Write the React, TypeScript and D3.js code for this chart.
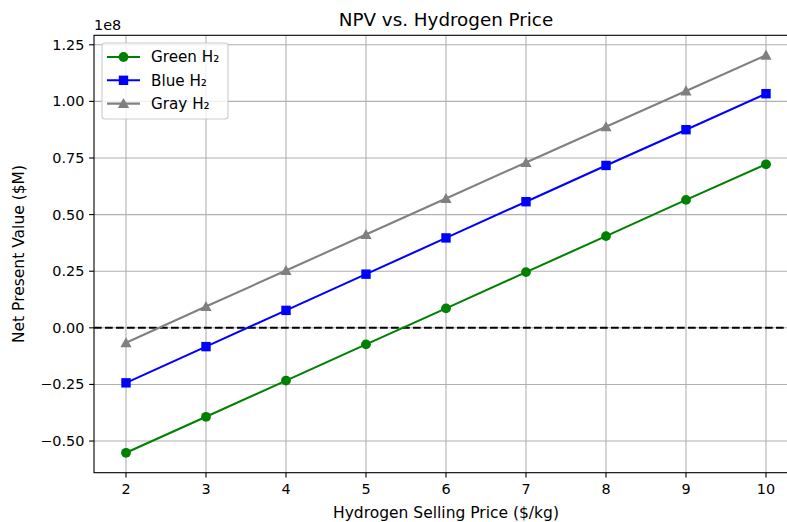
import React from "react";
import * as d3 from "d3";

const prices = [2, 3, 4, 5, 6, 7, 8, 9, 10];
const greenNPV = [-0.552, -0.393, -0.233, -0.073, 0.086, 0.246, 0.405, 0.565, 0.722];
const blueNPV = [-0.243, -0.083, 0.077, 0.237, 0.397, 0.557, 0.717, 0.875, 1.034];
const grayNPV = [-0.066, 0.094, 0.253, 0.412, 0.571, 0.730, 0.888, 1.046, 1.204];
const xTicks = [2, 3, 4, 5, 6, 7, 8, 9, 10];
const yTicks = [-0.5, -0.25, 0, 0.25, 0.5, 0.75, 1.0, 1.25];
const seriesNames = ["Green H₂", "Blue H₂", "Gray H₂"];
const seriesColors = ["#008000", "#0000ff", "#808080"];
const seriesMarkers = ["circle", "square", "triangle"];

const W = 787;
const H = 522;
const L = 94, R = 798, T = 35.3, B = 472.7;
const FONT = "DejaVu Sans, sans-serif";
const TICK_FS = 14.4;
const LABEL_FS = 15.5;
const TITLE_FS = 18.3;
const LEGEND_FS = 15.2;

function Marker({ kind, x, y, color }: { kind: string; x: number; y: number; color: string }) {
  if (kind === "circle") return <circle cx={x} cy={y} r={4.9} fill={color} />;
  if (kind === "square") return <rect x={x - 4.7} y={y - 4.7} width={9.4} height={9.4} fill={color} />;
  const s = 5.6;
  return <path d={`M${x},${y - s} L${x + s},${y + s * 0.8} L${x - s},${y + s * 0.8} Z`} fill={color} />;
}

export default function App() {
  const x = d3.scaleLinear().domain([1.6, 10.4]).range([L, R]);
  const allVals = [...greenNPV, ...blueNPV, ...grayNPV];
  const mn = d3.min(allVals)!, mx = d3.max(allVals)!;
  const pad = (mx - mn) * 0.05;
  const y = d3.scaleLinear().domain([mn - pad, mx + pad]).range([B, T]);
  const series = [greenNPV, blueNPV, grayNPV];
  const line = d3.line<number>().x((_, i) => x(prices[i])).y((d) => y(d));
  const fmt = d3.format(".2f");
  const fmtY = (v: number) => (v < 0 ? "\u2212" + fmt(-v) : fmt(v));

  return (
    <div style={{ position: "absolute", left: 0, top: 0 }}>
      <svg width={W} height={H} style={{ display: "block", background: "#fff" }} fontFamily={FONT}>
        <rect width={W} height={H} fill="#fff" />
        {xTicks.map((t) => (
          <line key={"gx" + t} x1={x(t)} x2={x(t)} y1={T} y2={B} stroke="#b0b0b0" strokeWidth={1.1} />
        ))}
        {yTicks.map((t) => (
          <line key={"gy" + t} x1={L} x2={R} y1={y(t)} y2={y(t)} stroke="#b0b0b0" strokeWidth={1.1} />
        ))}
        <line x1={L} x2={R} y1={y(0)} y2={y(0)} stroke="#000" strokeWidth={2.08} strokeDasharray="7.7,3.3" />
        {series.map((s, si) => (
          <g key={"s" + si}>
            <path d={line(s)!} fill="none" stroke={seriesColors[si]} strokeWidth={2.08} />
            {s.map((v, i) => (
              <Marker key={i} kind={seriesMarkers[si]} x={x(prices[i])} y={y(v)} color={seriesColors[si]} />
            ))}
          </g>
        ))}
        <rect x={L} y={T} width={R - L} height={B - T} fill="none" stroke="#000" strokeWidth={1.1} />
        {xTicks.map((t) => (
          <g key={"xt" + t}>
            <line x1={x(t)} x2={x(t)} y1={B} y2={B + 4.9} stroke="#000" strokeWidth={1.1} />
            <text x={x(t)} y={B + 21} textAnchor="middle" fontSize={TICK_FS} fill="#000">{t}</text>
          </g>
        ))}
        {yTicks.map((t) => (
          <g key={"yt" + t}>
            <line x1={L - 4.9} x2={L} y1={y(t)} y2={y(t)} stroke="#000" strokeWidth={1.1} />
            <text x={L - 9.7} y={y(t)} dy="0.35em" textAnchor="end" fontSize={TICK_FS} fill="#000">{fmtY(t)}</text>
          </g>
        ))}
        <text x={L} y={30} fontSize={TICK_FS} fill="#000">1e8</text>
        <text x={(L + R) / 2} y={26} textAnchor="middle" fontSize={TITLE_FS} fill="#000">NPV vs. Hydrogen Price</text>
        <text x={(L + R) / 2} y={518} textAnchor="middle" fontSize={LABEL_FS} fill="#000">Hydrogen Selling Price ($/kg)</text>
        <text transform={`translate(23.5,${(T + B) / 2}) rotate(-90)`} textAnchor="middle" fontSize={LABEL_FS} fill="#000">Net Present Value ($M)</text>
        <rect x={102} y={43} width={126} height={76} rx={3} fill="#fff" fillOpacity={0.8} stroke="#cccccc" strokeWidth={1.1} />
        {seriesNames.map((n, i) => {
          const ly = 57 + i * 23.3;
          return (
            <g key={"lg" + i}>
              <line x1={107} x2={140} y1={ly} y2={ly} stroke={seriesColors[i]} strokeWidth={2.08} />
              <Marker kind={seriesMarkers[i]} x={123.5} y={ly} color={seriesColors[i]} />
              <text x={151} y={ly} dy="0.35em" fontSize={LEGEND_FS} fill="#000">{n}</text>
            </g>
          );
        })}
      </svg>
    </div>
  );
}
